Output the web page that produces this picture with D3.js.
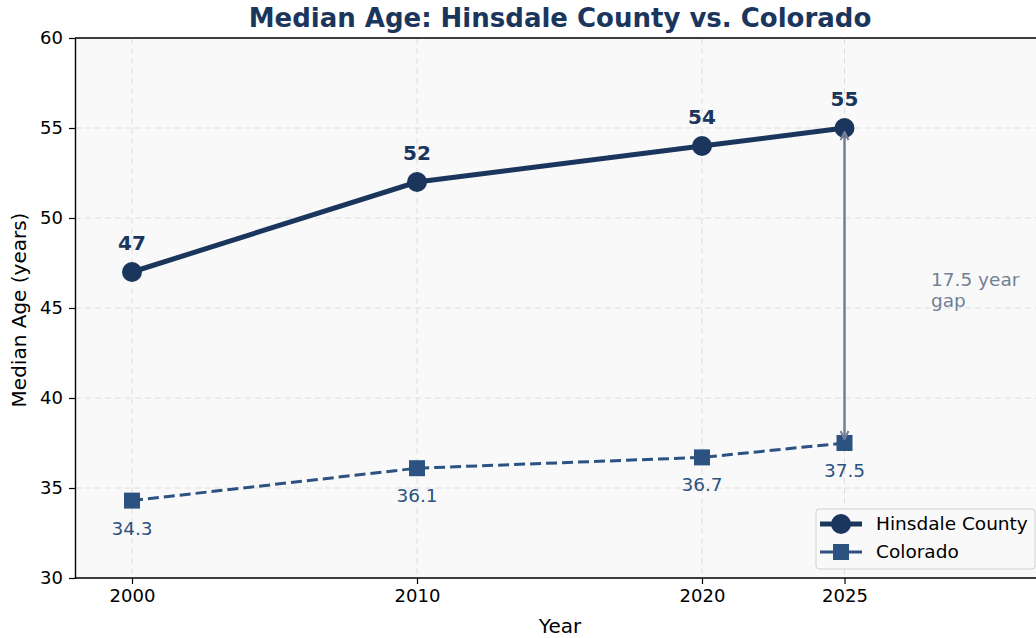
<!DOCTYPE html>
<html><head><meta charset="utf-8">
<script src="https://cdn.jsdelivr.net/npm/d3@7"></script>
<style>body{margin:0;background:#fff}svg{display:block;font-family:"DejaVu Sans",sans-serif}</style>
</head><body>
<svg id="c" width="1036" height="638"></svg>
<script>
const years = [2000, 2010, 2020, 2025];
const hinsdale = [47, 52, 54, 55];
const colorado = [34.3, 36.1, 36.7, 37.5];
const yTicks = [30, 35, 40, 45, 50, 55, 60];
const seriesNames = ["Hinsdale County", "Colorado"];
const gapLabel = ["17.5 year", "gap"];

const svg = d3.select("#c");
const L = 75, T = 38, B = 578, R = 1044;
const x = d3.scaleLinear().domain([1998, 2032]).range([L, R]);
const y = d3.scaleLinear().domain([30, 60]).range([B, T]);
const cH = "#1b365d", cC = "#2c5282", cG = "#718096";

svg.append("rect").attr("x", L).attr("y", T).attr("width", R - L).attr("height", B - T).attr("fill", "#f9f9f9");

// grid
svg.append("g").selectAll("line").data(yTicks).join("line")
  .attr("x1", L).attr("x2", R).attr("y1", d => y(d)).attr("y2", d => y(d))
  .attr("stroke", "#dddddd").attr("stroke-dasharray", "6,4").attr("stroke-width", 1);
svg.append("g").selectAll("line").data(years).join("line")
  .attr("y1", T).attr("y2", B).attr("x1", d => x(d)).attr("x2", d => x(d))
  .attr("stroke", "#dddddd").attr("stroke-dasharray", "6,4").attr("stroke-width", 1);

// axes
const xa = svg.append("g").attr("transform", `translate(0,${B})`)
  .call(d3.axisBottom(x).tickValues(years).tickFormat(d3.format("d")).tickSize(6).tickPadding(5).tickSizeOuter(0));
const ya = svg.append("g").attr("transform", `translate(${L},0)`)
  .call(d3.axisLeft(y).tickValues(yTicks).tickSize(6).tickPadding(6).tickSizeOuter(0));
[xa, ya].forEach(a => {
  a.selectAll("text").attr("font-size", 18).attr("fill", "#000").attr("font-family", "DejaVu Sans");
  a.selectAll("line").attr("stroke", "#000").attr("stroke-width", 1.2);
  a.select(".domain").attr("stroke", "#000").attr("stroke-width", 1.4);
});
xa.select(".domain").attr("d", `M${L},0H${R}`);
// top spine
svg.append("line").attr("x1", L).attr("x2", R).attr("y1", T).attr("y2", T).attr("stroke", "#000").attr("stroke-width", 1.4);

// lines
const hData = years.map((yr, i) => [yr, hinsdale[i]]);
const cData = years.map((yr, i) => [yr, colorado[i]]);
const line = d3.line().x(d => x(d[0])).y(d => y(d[1]));
svg.append("path").datum(cData).attr("d", line).attr("fill", "none").attr("stroke", cC)
  .attr("stroke-width", 3).attr("stroke-dasharray", "11,5");
svg.append("path").datum(hData).attr("d", line).attr("fill", "none").attr("stroke", cH).attr("stroke-width", 5);

svg.append("g").selectAll("circle").data(hData).join("circle")
  .attr("cx", d => x(d[0])).attr("cy", d => y(d[1])).attr("r", 10).attr("fill", cH);
svg.append("g").selectAll("rect").data(cData).join("rect")
  .attr("x", d => x(d[0]) - 8).attr("y", d => y(d[1]) - 8).attr("width", 16).attr("height", 16).attr("fill", cC);

// labels
svg.append("g").selectAll("text").data(hData).join("text")
  .attr("x", d => x(d[0])).attr("y", d => y(d[1]) - 22).attr("text-anchor", "middle")
  .attr("font-size", 20).attr("font-weight", "bold").attr("fill", cH).text(d => d[1]);
svg.append("g").selectAll("text").data(cData).join("text")
  .attr("x", d => x(d[0])).attr("y", d => y(d[1]) + 34).attr("text-anchor", "middle")
  .attr("font-size", 18.5).attr("fill", cC).text(d => d[1].toFixed(1));

// gap arrow
const gx = x(years[3]);
const defs = svg.append("defs");
defs.append("marker").attr("id", "ah").attr("viewBox", "0 0 10 10").attr("refX", 9).attr("refY", 5)
  .attr("markerWidth", 10).attr("markerHeight", 10).attr("markerUnits", "userSpaceOnUse").attr("orient", "auto-start-reverse")
  .append("path").attr("d", "M1,1L9,5L1,9").attr("fill", "none").attr("stroke", cG).attr("stroke-width", 2);
svg.append("line").attr("x1", gx).attr("x2", gx).attr("y1", y(hinsdale[3]) + 4).attr("y2", y(colorado[3]) - 4)
  .attr("stroke", cG).attr("stroke-width", 2.5).attr("marker-start", "url(#ah)").attr("marker-end", "url(#ah)");
svg.append("text").attr("x", 931).attr("y", 286).attr("font-size", 18.5).attr("fill", cG)
  .selectAll("tspan").data(gapLabel).join("tspan").attr("x", 931).attr("dy", (d, i) => i ? 21 : 0).text(d => d);

// title & axis labels
svg.append("text").attr("x", 560).attr("y", 27).attr("text-anchor", "middle").attr("font-size", 26)
  .attr("font-weight", "bold").attr("fill", cH).text("Median Age: Hinsdale County vs. Colorado");
svg.append("text").attr("x", 560).attr("y", 633).attr("text-anchor", "middle").attr("font-size", 20).text("Year");
svg.append("text").attr("transform", "translate(26,310) rotate(-90)").attr("text-anchor", "middle").attr("font-size", 20).text("Median Age (years)");

// legend
const lg = svg.append("g");
lg.append("rect").attr("x", 816).attr("y", 509).attr("width", 219).attr("height", 60).attr("rx", 3)
  .attr("fill", "#f9f9f9").attr("stroke", "#d0d0d0").attr("stroke-width", 1);
[0, 1].forEach(i => {
  const yy = 524 + i * 28;
  lg.append("line").attr("x1", 820).attr("x2", 862).attr("y1", yy).attr("y2", yy)
    .attr("stroke", i ? cC : cH).attr("stroke-width", i ? 3 : 5);
  if (i) lg.append("rect").attr("x", 833).attr("y", yy - 8).attr("width", 16).attr("height", 16).attr("fill", cC);
  else lg.append("circle").attr("cx", 841).attr("cy", yy).attr("r", 10).attr("fill", cH);
  lg.append("text").attr("x", 876).attr("y", yy + 6).attr("font-size", 18.5).attr("fill", "#000").text(seriesNames[i]);
});
</script>
</body></html>
